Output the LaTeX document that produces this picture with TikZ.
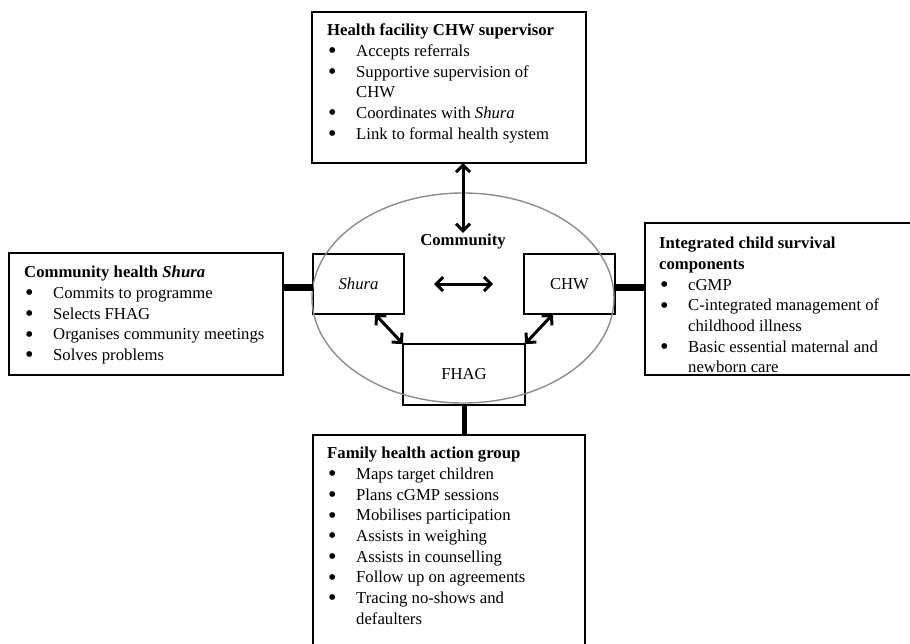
\documentclass[tikz,border=0pt]{standalone}
\usepackage{fontspec}
\usepackage{array}
\setmainfont{Liberation Serif}
\usetikzlibrary{arrows.meta,shapes.geometric}
\newcommand{\bul}{\smash{\raisebox{-2.3pt}{\scalebox{1.45}{\textbullet}}}}
\newcommand{\itm}[1]{\bul & #1\\}
\newcommand{\hd}[1]{\multicolumn{2}{@{}l@{}}{\textbf{#1}}\\}
\newenvironment{blist}{\begin{tabular}{@{}>{\hspace{1pt}}p{29pt}@{}>{\raggedright\arraybackslash}p{225pt}@{}}}{\end{tabular}}
\begin{document}
\begin{tikzpicture}[x=1pt,y=-1pt,
  box/.style={draw,line width=1.6pt,inner sep=0pt,outer sep=0pt,anchor=north west},
  txt/.style={anchor=north west,inner sep=0pt,font=\fontsize{16.7}{20.7}\selectfont},
  lbl/.style={font=\fontsize{16.7}{20.7}\selectfont},
  dbl/.style={line width=3pt,{Straight Barb[length=7pt,width=14pt]}-{Straight Barb[length=7pt,width=14pt]}},
  link/.style={line width=7pt}]
\clip (0,0) rectangle (910,643);
% outer boxes
\node[box,minimum width=274pt,minimum height=151pt] (supbox) at (312,12) {};
\node[box,minimum width=274pt,minimum height=122pt] (shurabox) at (9,253) {};
\node[box,minimum width=290pt,minimum height=152pt] (icsbox) at (645,223) {};
\node[box,minimum width=272pt,minimum height=230pt] (fhagbox) at (313,435) {};
\node[txt] (suptxt) at (327,21) {\begin{blist}
  \hd{Health facility CHW supervisor}
  \itm{Accepts referrals}
  \itm{Supportive supervision of\newline CHW}
  \itm{Coordinates with \textit{Shura}}
  \itm{Link to formal health system}
  \end{blist}};
\node[txt] (shuratxt) at (24,263) {\begin{blist}
  \hd{Community health \textit{Shura}}
  \itm{Commits to programme}
  \itm{Selects FHAG}
  \itm{Organises community meetings}
  \itm{Solves problems}
  \end{blist}};
\node[txt] (icstxt) at (659,234) {\begin{blist}
  \hd{Integrated child survival}
  \hd{components}
  \itm{cGMP}
  \itm{C-integrated management of\newline childhood illness}
  \itm{Basic essential maternal and\newline newborn care}
  \end{blist}};
\node[txt] (fhagtxt) at (327,444) {\begin{blist}
  \hd{Family health action group}
  \itm{Maps target children}
  \itm{Plans cGMP sessions}
  \itm{Mobilises participation}
  \itm{Assists in weighing}
  \itm{Assists in counselling}
  \itm{Follow up on agreements}
  \itm{Tracing no-shows and\newline defaulters}
  \end{blist}};
% community
\node[box,minimum width=91pt,minimum height=60pt] (shura) at (313,254) {};
\node[box,minimum width=91pt,minimum height=60pt] (chw) at (524,254) {};
\node[box,minimum width=122pt,minimum height=61pt] (fhag) at (403,344) {};
\node[lbl] at (shura.center) {\textit{Shura}};
\node[lbl] at (chw.center) {CHW};
\node[lbl] at (fhag.center) {FHAG};
\node[lbl,font=\fontsize{16.7}{20.7}\selectfont\bfseries] (comm) at (463,242) {Community};
\node[ellipse,draw=black!45,line width=1.4pt,inner sep=0pt,minimum width=302pt,minimum height=210pt] (ring) at (463,298) {};
% links
\draw[dbl] (supbox.south -| comm) -- ([yshift=-2pt]comm.north);
\draw[dbl,shorten <=30pt,shorten >=31pt] (shura) -- (chw);
\draw[dbl] ([xshift=16.5pt]shura.south) -- (fhag.north west);
\draw[dbl] ([xshift=-16.5pt]chw.south) -- (fhag.north east);
\draw[link] ([yshift=-3pt]shurabox.east |- shura) -- ([yshift=-3pt]shura.west);
\draw[link] ([yshift=-3pt]chw.east) -- ([yshift=-3pt]icsbox.west |- chw);
\draw[line width=5pt] (fhag.south) -- (fhag.south |- fhagbox.north);
\end{tikzpicture}
\end{document}
